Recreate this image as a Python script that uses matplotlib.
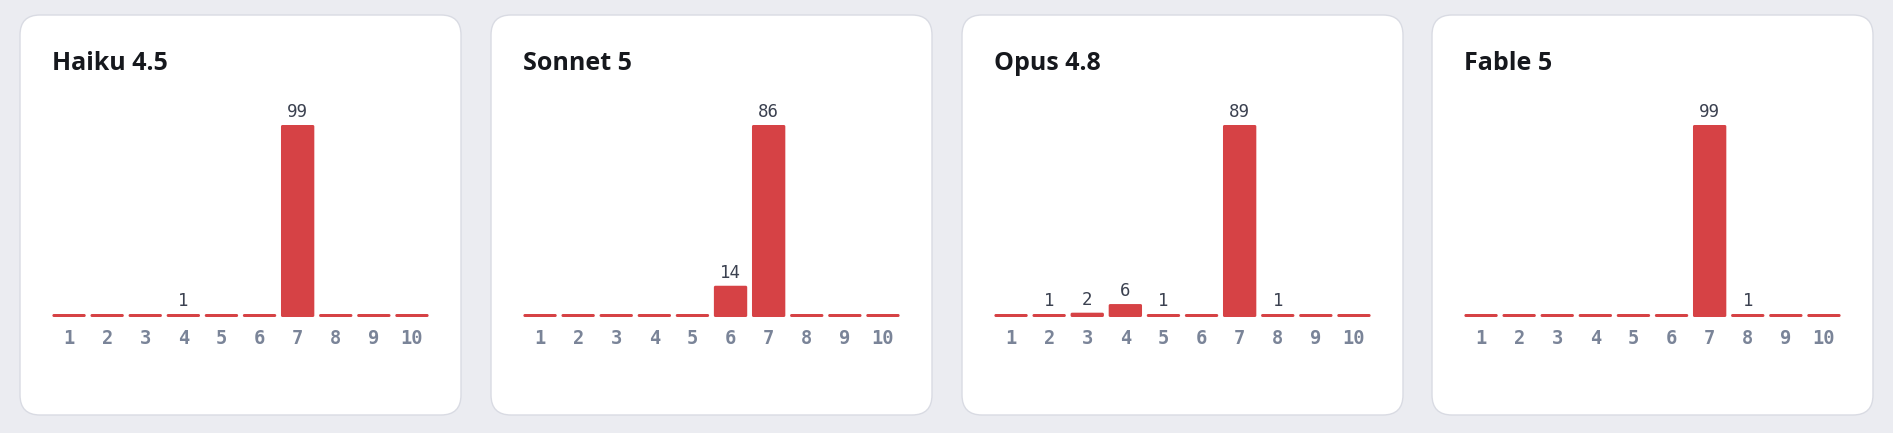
import matplotlib
matplotlib.use("Agg")
import matplotlib.pyplot as plt
from matplotlib.patches import FancyBboxPatch

W, H = 1893, 433

models = ["Haiku 4.5", "Sonnet 5", "Opus 4.8", "Fable 5"]
scores = [1, 2, 3, 4, 5, 6, 7, 8, 9, 10]
haiku = [0, 0, 0, 1, 0, 0, 99, 0, 0, 0]
sonnet = [0, 0, 0, 0, 0, 14, 86, 0, 0, 0]
opus = [0, 1, 2, 6, 1, 0, 89, 1, 0, 0]
fable = [0, 0, 0, 0, 0, 0, 99, 1, 0, 0]
counts = [haiku, sonnet, opus, fable]

card_left = [20, 491, 962, 1432]
card_w = 441

bg = "#ebecf1"
bar_color = "#d64245"

fig = plt.figure(figsize=(W / 100, H / 100), dpi=100)
fig.patch.set_facecolor(bg)

# background axes in pixel units for the cards
back = fig.add_axes([0, 0, 1, 1], zorder=-1)
back.set_xlim(0, W)
back.set_ylim(H, 0)
back.axis("off")


def fx(px):
    return px / W


def fy(py):
    return 1 - py / H


for i, name in enumerate(models):
    x0 = card_left[i]
    back.add_patch(FancyBboxPatch((x0, 15), card_w, 400,
                                  boxstyle="round,pad=0,rounding_size=20",
                                  facecolor="white", edgecolor="#d9dbe3",
                                  linewidth=1.0))

    fig.text(fx(x0 + 32), fy(70), name, fontsize=18, fontweight="bold",
             family="Open Sans", color="#16181d", va="baseline", ha="left")

    # plot area: baseline at y=317, tallest bar top at y=125
    ax_w_px = 381
    ax = fig.add_axes([fx(x0 + 30), fy(317), fx(ax_w_px), (317 - 125) / H])
    ax.set_facecolor("none")
    vals = counts[i]
    vmax = max(vals)
    min_h = vmax * 3 / 192
    heights = [max(v, min_h) for v in vals]
    bars = ax.bar(range(len(scores)), heights, width=0.875, color=bar_color)

    # swap plain rectangles for slightly rounded ones
    px_x = len(scores) / ax_w_px      # x data units per pixel
    px_y = vmax / 192                 # y data units per pixel
    for r in bars:
        r.set_visible(False)
        ax.add_patch(FancyBboxPatch((r.get_x(), 0), r.get_width(), r.get_height(),
                                    boxstyle=f"round,pad=0,rounding_size={1.5 * px_x}",
                                    mutation_aspect=px_y / px_x,
                                    facecolor=bar_color, edgecolor="none"))

    for j, v in enumerate(vals):
        if v > 0:
            ax.annotate(str(v), (j, heights[j]), xytext=(0, 3),
                        textcoords="offset points", ha="center", va="bottom",
                        fontsize=12.5, family="DejaVu Sans Mono", color="#3b4150",
                        annotation_clip=False)
    ax.set_xlim(-0.5, len(scores) - 0.5)
    ax.set_ylim(0, vmax)
    ax.set_xticks(range(len(scores)))
    ax.set_xticklabels([str(s) for s in scores], family="DejaVu Sans Mono",
                       fontsize=13.5, color="#7a8498", fontweight="bold")
    ax.tick_params(axis="x", length=0, pad=9)
    ax.set_yticks([])
    for s in ax.spines.values():
        s.set_visible(False)

fig.savefig("out.png", dpi=100, facecolor=bg)
